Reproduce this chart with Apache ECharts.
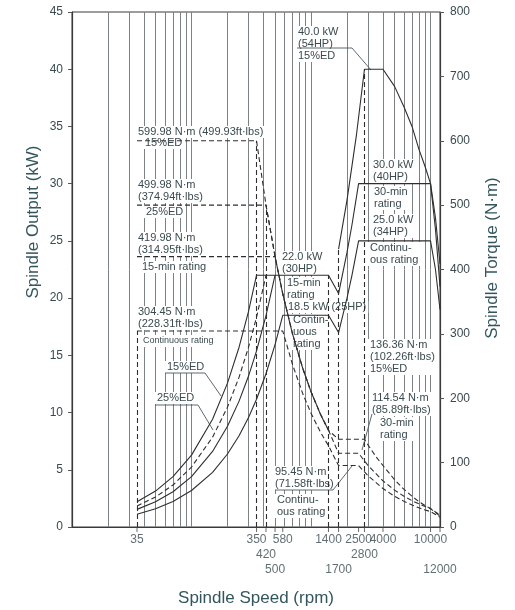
<!DOCTYPE html>
<html>
<head>
<meta charset="utf-8">
<script src="https://cdn.jsdelivr.net/npm/echarts@6/dist/echarts.min.js"></script>
<style>
  html, body { margin: 0; background: #fff; }
  #chart { width: 515px; height: 610px; }
</style>
</head>
<body>
<div id="chart"></div>
<script>
// speed labels under the axis, three rows
const speedRow1 = [35, 350, 580, 1400, 2500, 4000, 10000]
const speedRow2 = [420, 2800]
const speedRow3 = [500, 1700, 12000]
// log grid lines
const gridSpeeds = [20, 30, 40, 50, 60, 70, 80, 90, 100, 200, 300, 400, 500, 600, 700, 800, 900,
  1000, 2000, 3000, 4000, 5000, 6000, 7000, 8000, 9000, 10000]

// output (kW), low gear
const pow15EdLow = [[35, 2.2], [50, 3.14], [70, 4.4], [100, 6.28], [150, 9.42], [200, 12.57], [250, 15.71],
  [300, 18.85], [350, 22], [1400, 22], [1700, 20.4]]
const pow25EdLow = [[35, 1.83], [50, 2.62], [70, 3.67], [100, 5.24], [150, 7.85], [200, 10.47], [250, 13.09],
  [300, 15.71], [350, 18.33], [420, 22]]
const pow15MinLow = [[35, 1.54], [50, 2.2], [70, 3.08], [100, 4.4], [150, 6.6], [200, 8.8], [250, 11],
  [300, 13.19], [350, 15.39], [420, 18.47], [500, 22]]
const powContLow = [[35, 1.12], [50, 1.59], [70, 2.23], [100, 3.19], [150, 4.78], [200, 6.38], [250, 7.97],
  [300, 9.56], [350, 11.16], [420, 13.39], [500, 15.94], [580, 18.5], [1400, 18.5], [1700, 17]]
// output (kW), high gear
const pow15EdHigh = [[1700, 24.28], [2000, 28.56], [2400, 34.27], [2800, 40], [4000, 40], [5000, 38.5],
  [6000, 36.7], [7000, 35], [8000, 33], [9000, 31.5], [10000, 30], [11000, 27], [12000, 23]]
const pow30MinHigh = [[1700, 20.39], [2000, 23.99], [2200, 26.39], [2500, 30], [10000, 30], [11000, 26], [12000, 21]]
const powContHigh = [[1700, 16.99], [2000, 19.99], [2200, 21.99], [2500, 25], [10000, 25], [11000, 22.5], [12000, 19]]

// torque (N·m)
const torq15Ed = [[35, 599.98], [350, 599.98], [420, 500.2], [500, 420.2], [580, 362.2], [700, 300.1],
  [850, 247.2], [1000, 210.1], [1200, 175.1], [1400, 150.1], [1700, 136.36], [2800, 136.36], [3000, 127.3],
  [3500, 109.1], [4000, 95.5], [5000, 73.5], [6000, 58.4], [7000, 47.7], [8000, 39.4], [9000, 33.4],
  [10000, 28.6], [11000, 23.4], [12000, 18.3]]
const torq25Ed = [[35, 499.98], [420, 499.98], [500, 420.2], [580, 362.2], [700, 300.1], [850, 247.2],
  [1000, 210.1], [1200, 175.1], [1400, 150.1]]
const torq15Min = [[35, 419.98], [500, 419.98], [580, 362.2], [700, 300.1], [850, 247.2], [1000, 210.1],
  [1200, 175.1], [1400, 150.1], [1700, 114.54], [2500, 114.54], [3000, 95.5], [4000, 71.6], [5000, 57.3],
  [6000, 47.7], [7000, 40.9], [8000, 35.8], [9000, 31.8], [10000, 28.6], [11000, 22.6], [12000, 16.7]]
const torqCont = [[35, 304.45], [580, 304.45], [700, 252.4], [850, 207.8], [1000, 176.7], [1200, 147.2],
  [1400, 126.2], [1700, 95.45], [2500, 95.45], [3000, 79.6], [4000, 59.7], [5000, 47.7], [6000, 39.8],
  [7000, 34.1], [8000, 29.8], [9000, 26.5], [10000, 23.9], [11000, 19.5], [12000, 15.1]]

// dashed drop lines down to the axis
const torqueDrops = [[35, 304.45], [350, 599.98], [420, 499.98]]
const powerDrops = [[1400, 22], [1700, 24.28], [2800, 40]]

const inkColor = "#2e2e2e"
const textColor = "#3a4a4f"
const titleColor = "#33565e"
const font = "Liberation Sans, Arial, sans-serif"

const curve = (data, axis, dashed) => ({
  type: "line",
  data: data,
  yAxisIndex: axis,
  symbol: "none",
  silent: true,
  z: 3,
  lineStyle: { color: inkColor, width: 1.1, type: dashed ? [5, 3] : "solid" },
})

const speedLabels = (values, distance) => ({
  type: "scatter",
  data: values.map((v) => [v, 0]),
  symbol: "rect",
  symbolSize: [1, 5],
  symbolOffset: [0, 2.5],
  itemStyle: { color: "#444" },
  clip: false,
  silent: true,
  z: 3,
  label: {
    show: true,
    position: "bottom",
    distance: distance,
    formatter: (p) => String(p.value[0]),
    fontSize: 12,
    color: textColor,
  },
})

// grid lines on their own series, under the notes
const gridSeries = {
  type: "line",
  data: [[35, 0]],
  symbol: "none",
  silent: true,
  z: 0,
  lineStyle: { opacity: 0 },
  markLine: {
    z: 0,
    silent: true,
    symbol: ["none", "none"],
    label: { show: false },
    lineStyle: { type: "solid", color: "#7c8284", width: 1 },
    data: gridSpeeds.map((v) => ({ xAxis: v })),
  },
}

const contTorque = curve(torqCont, 1, true)
contTorque.markLine = {
  silent: true,
  symbol: ["none", "none"],
  label: { show: false },
  lineStyle: { type: [5, 3], color: inkColor, width: 1.1 },
  data: torqueDrops.map(([s, v]) => [{ coord: [s, 0] }, { coord: [s, v] }]),
}

const highPower = curve(pow15EdHigh, 0, false)
highPower.markLine = {
  silent: true,
  symbol: ["none", "none"],
  label: { show: false },
  lineStyle: { type: [5, 3], color: inkColor, width: 1.1 },
  data: powerDrops.map(([s, v]) => [{ coord: [s, 0] }, { coord: [s, v] }]),
}

// annotation blocks: left, top, text, size
const notes = [
  [136, 126, "599.98 N·m (499.93ft·lbs)"],
  [143, 137, "15%ED"],
  [136, 179, "499.98 N·m\n(374.94ft·lbs)"],
  [144, 206, "25%ED"],
  [136, 232, "419.98 N·m\n(314.95ft·lbs)"],
  [140, 261, "15-min rating"],
  [136, 306, "304.45 N·m\n(228.31ft·lbs)"],
  [141, 335, "Continuous rating", 9],
  [165, 361, "15%ED"],
  [155, 392, "25%ED"],
  [280, 251, "22.0 kW\n(30HP)"],
  [285, 277, "15-min\nrating"],
  [286, 301, "18.5 kW (25HP)"],
  [291, 314, "Contin-\nuous\nrating"],
  [296, 26, "40.0 kW\n(54HP)\n15%ED"],
  [371, 159, "30.0 kW\n(40HP)"],
  [372, 186, "30-min\nrating"],
  [371, 214, "25.0 kW\n(34HP)"],
  [368, 242, "Continu-\nous rating"],
  [368, 339, "136.36 N·m\n(102.26ft·lbs)\n15%ED"],
  [370, 392, "114.54 N·m\n(85.89ft·lbs)"],
  [378, 417, "30-min\nrating"],
  [273, 466, "95.45 N·m\n(71.58ft·lbs)"],
  [275, 494, "Continu-\nous rating"],
]

const leaders = [
  [[165, 373], [205, 373], [221, 396]],
  [[155, 405], [198, 405], [213, 430]],
  [[297, 48], [352, 48], [371, 70]],
  [[275, 490], [333, 490], [352, 466]],
  [[372, 414], [362, 450]],
]

const graphic = [
  ...notes.map(([x, y, text, size]) => ({
    type: "text",
    x: x,
    y: y,
    z: 1,
    silent: true,
    style: {
      text: text,
      fontSize: size || 11,
      lineHeight: 12,
      fontFamily: font,
      fill: textColor,
      backgroundColor: "#fff",
      padding: [0, 2],
      textAlign: "left",
      textVerticalAlign: "top",
    },
  })),
  ...leaders.map((pts) => ({
    type: "polyline",
    z: 2,
    silent: true,
    shape: { points: pts },
    style: { stroke: "#4a5a5f", lineWidth: 0.9, fill: null },
  })),
  {
    type: "text", x: 33, y: 222, rotation: Math.PI / 2, silent: true,
    style: { text: "Spindle Output (kW)", fontSize: 17, fontFamily: font, fill: titleColor, textAlign: "center", textVerticalAlign: "middle" },
  },
  {
    type: "text", x: 492, y: 258, rotation: Math.PI / 2, silent: true,
    style: { text: "Spindle Torque (N·m)", fontSize: 17, fontFamily: font, fill: titleColor, textAlign: "center", textVerticalAlign: "middle" },
  },
  {
    type: "text", x: 256, y: 598, silent: true,
    style: { text: "Spindle Speed (rpm)", fontSize: 17, fontFamily: font, fill: titleColor, textAlign: "center", textVerticalAlign: "middle" },
  },
]

const option = {
  animation: false,
  backgroundColor: "#fff",
  textStyle: { fontFamily: font },
  grid: {
    left: 72, right: 75, top: 12, bottom: 83,
    show: true, borderColor: "#3a3a3a", borderWidth: 1,
    outerBoundsMode: "none",
  },
  xAxis: {
    type: "log",
    logBase: 10,
    min: 10,
    max: 12000,
    axisLine: { lineStyle: { color: "#3a3a3a", width: 1.2 } },
    axisTick: { show: false },
    axisLabel: { show: false },
    splitLine: { show: false },
  },
  yAxis: [
    {
      type: "value", min: 0, max: 45, interval: 5, position: "left",
      axisLine: { show: true, lineStyle: { color: "#3a3a3a", width: 1.2 } },
      axisTick: { show: true, length: 4, lineStyle: { color: "#555" } },
      axisLabel: { fontSize: 12, color: textColor, margin: 9 },
      splitLine: { show: false },
    },
    {
      type: "value", min: 0, max: 800, interval: 100, position: "right",
      axisLine: { show: true, lineStyle: { color: "#3a3a3a", width: 1.2 } },
      axisTick: { show: true, length: 4, lineStyle: { color: "#555" } },
      axisLabel: { fontSize: 12, color: textColor, margin: 10 },
      splitLine: { show: false },
    },
  ],
  series: [
    gridSeries,
    curve(pow15EdLow, 0, false),
    curve(pow25EdLow, 0, true),
    curve(pow15MinLow, 0, false),
    curve(powContLow, 0, false),
    highPower,
    curve(pow30MinHigh, 0, false),
    curve(powContHigh, 0, false),
    curve(torq15Ed, 1, true),
    curve(torq25Ed, 1, true),
    curve(torq15Min, 1, true),
    contTorque,
    speedLabels(speedRow1, 2),
    speedLabels(speedRow2, 17),
    speedLabels(speedRow3, 32),
  ],
  graphic: graphic,
}

const chart = echarts.init(document.getElementById("chart"))
chart.setOption(option)
</script>
</body>
</html>
